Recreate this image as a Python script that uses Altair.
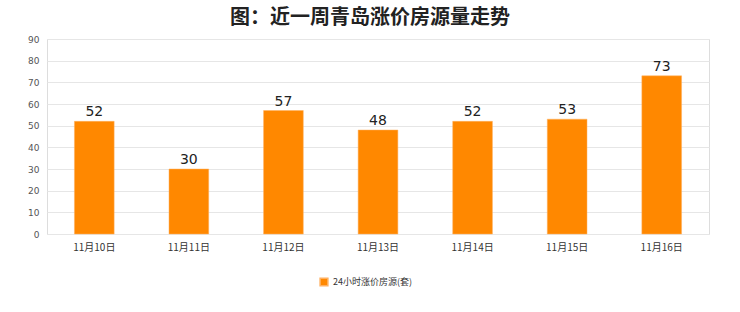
import altair as alt
import pandas as pd

dates = ["11月10日", "11月11日", "11月12日", "11月13日", "11月14日", "11月15日", "11月16日"]
values = [52, 30, 57, 48, 52, 53, 73]
series = ["24小时涨价房源(套)"] * len(dates)

df = pd.DataFrame({"date": dates, "value": values, "series": series})

FONT = "Noto Sans CJK SC"

base = alt.Chart(df).encode(
    x=alt.X("date:N", sort=dates, title=None,
            scale=alt.Scale(paddingInner=0.58, paddingOuter=0.29),
            axis=alt.Axis(labelAngle=0, labelFontSize=10, labelColor="#333",
                          labelFont=FONT, domain=False, ticks=False, labelPadding=8,
                          grid=False)),
    y=alt.Y("value:Q", title=None,
            scale=alt.Scale(domain=[0, 90]),
            axis=alt.Axis(values=list(range(0, 91, 10)), labelFontSize=9,
                          labelColor="#555", domain=False, ticks=False,
                          labelPadding=8, gridColor="#e6e6e6", labelFont="DejaVu Sans")),
)

bars = base.mark_bar(color="#FF8800", stroke="#FFB060", strokeWidth=0.5).encode(
    color=alt.Color("series:N", title=None,
                    scale=alt.Scale(range=["#FF8800"]),
                    legend=alt.Legend(orient="none", legendX=268, legendY=234,
                                      symbolType="square", symbolSize=60,
                                      labelFontSize=9, labelColor="#333",
                                      labelFont=FONT, fillColor="white",
                                      padding=4))
)

labels = base.mark_text(dy=-9, fontSize=14, color="#222", font="DejaVu Sans").encode(
    text="value:Q"
)

chart = (bars + labels).properties(
    width=662, height=195,
    padding={"left": 47, "top": 39, "right": 31, "bottom": 78},
    autosize=alt.AutoSizeParams(type="none"),
    title=alt.Title("图：近一周青岛涨价房源量走势", fontSize=20, font=FONT,
                    fontWeight=600, color="#222", offset=7, dx=-8),
).configure_view(stroke="#dddddd", strokeWidth=1).configure(background="white")

chart.save("out.html", embed_options={"renderer": "svg", "actions": False})
